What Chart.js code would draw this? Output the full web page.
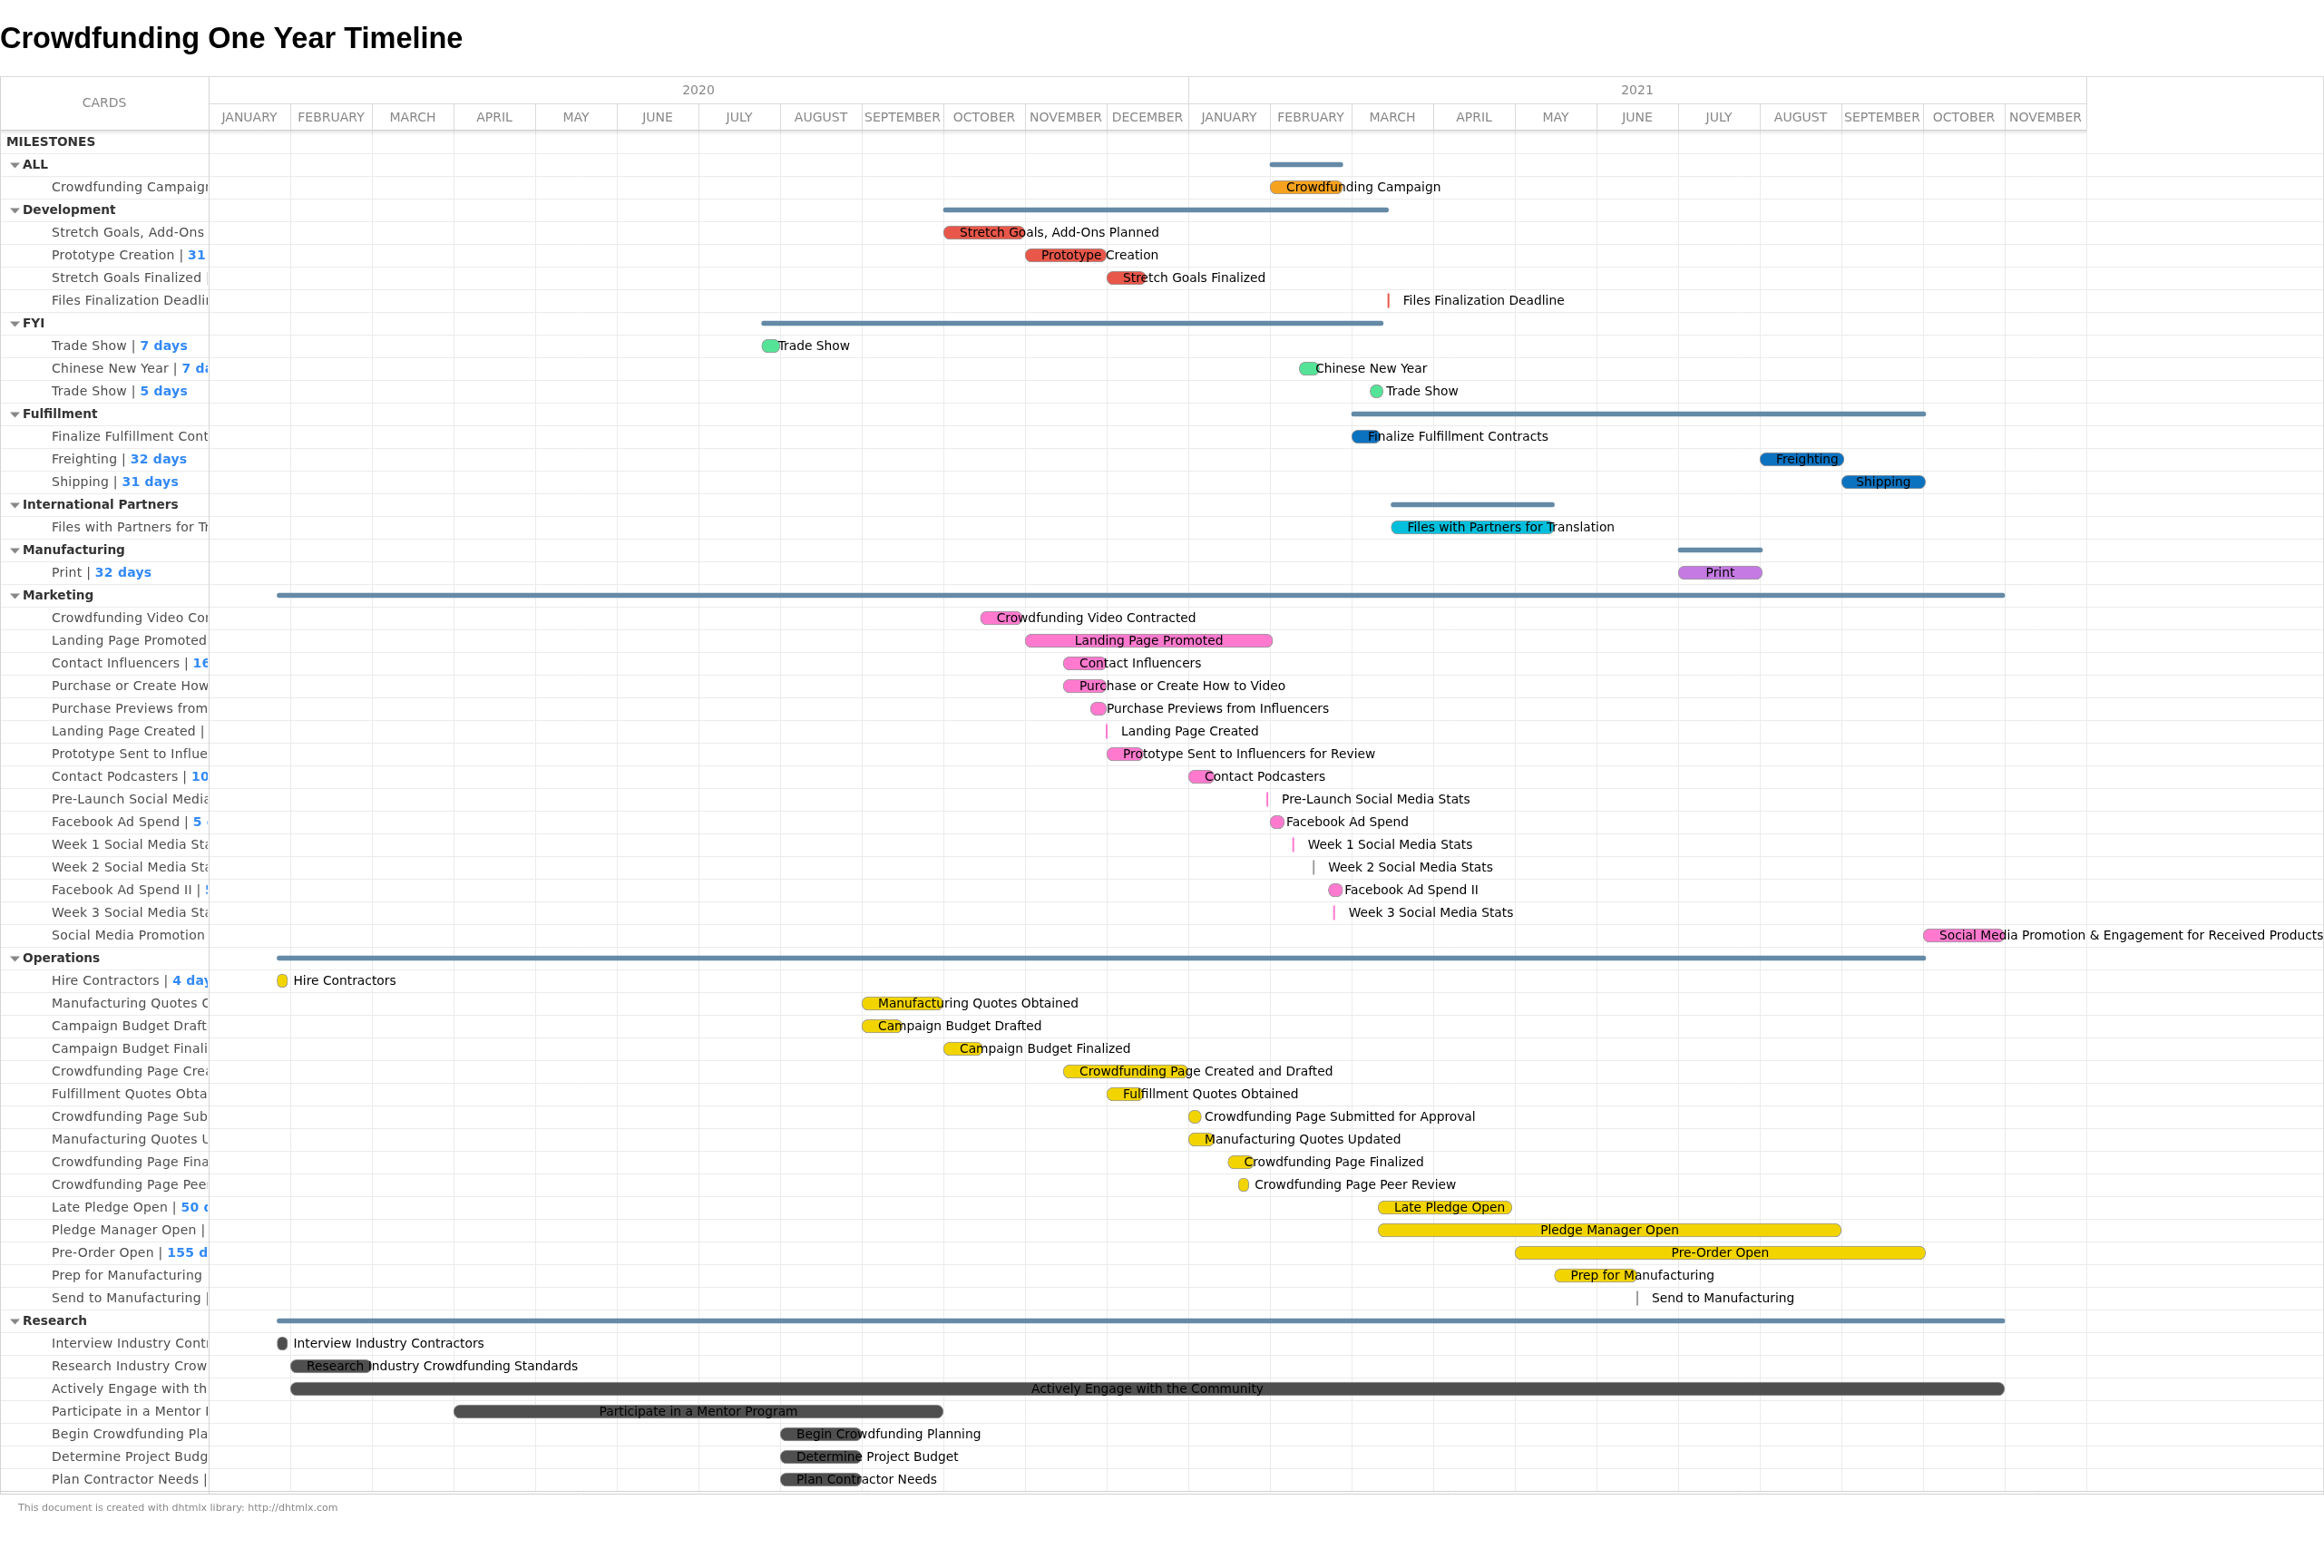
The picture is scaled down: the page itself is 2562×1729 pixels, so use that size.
<!DOCTYPE html>
<html>
<head>
<meta charset="utf-8">
<title>Crowdfunding One Year Timeline</title>
<script src="https://cdn.jsdelivr.net/npm/chart.js@4.4.1/dist/chart.umd.min.js"></script>
<style>
  html, body { margin: 0; padding: 0; background: #fff; }
  #wrap { position: relative; width: 2562px; height: 1729px; }
</style>
</head>
<body>
<div id="wrap"><canvas id="myChart"></canvas></div>
<script>
// grid rows, top to bottom
var rowLabels = [
    'MILESTONES',
    'ALL', 'Crowdfunding Campaign',
    'Development', 'Stretch Goals, Add-Ons Planned', 'Prototype Creation', 'Stretch Goals Finalized', 'Files Finalization Deadline',
    'FYI', 'Trade Show', 'Chinese New Year', 'Trade Show',
    'Fulfillment', 'Finalize Fulfillment Contracts', 'Freighting', 'Shipping',
    'International Partners', 'Files with Partners for Translation',
    'Manufacturing', 'Print',
    'Marketing', 'Crowdfunding Video Contracted', 'Landing Page Promoted', 'Contact Influencers',
    'Purchase or Create How to Video', 'Purchase Previews from Influencers', 'Landing Page Created',
    'Prototype Sent to Influencers for Review', 'Contact Podcasters', 'Pre-Launch Social Media Stats',
    'Facebook Ad Spend', 'Week 1 Social Media Stats', 'Week 2 Social Media Stats', 'Facebook Ad Spend II',
    'Week 3 Social Media Stats', 'Social Media Promotion & Engagement for Received Products',
    'Operations', 'Hire Contractors', 'Manufacturing Quotes Obtained', 'Campaign Budget Drafted',
    'Campaign Budget Finalized', 'Crowdfunding Page Created and Drafted', 'Fulfillment Quotes Obtained',
    'Crowdfunding Page Submitted for Approval', 'Manufacturing Quotes Updated', 'Crowdfunding Page Finalized',
    'Crowdfunding Page Peer Review', 'Late Pledge Open', 'Pledge Manager Open', 'Pre-Order Open',
    'Prep for Manufacturing', 'Send to Manufacturing',
    'Research', 'Interview Industry Contractors', 'Research Industry Crowdfunding Standards',
    'Actively Engage with the Community', 'Participate in a Mentor Program', 'Begin Crowdfunding Planning',
    'Determine Project Budget', 'Plan Contractor Needs'
];

// root / group / task / milestone
var rowKinds = [
    'root',
    'group', 'task',
    'group', 'task', 'task', 'task', 'milestone',
    'group', 'task', 'task', 'task',
    'group', 'task', 'task', 'task',
    'group', 'task',
    'group', 'task',
    'group', 'task', 'task', 'task', 'task', 'task', 'milestone', 'task', 'task', 'milestone',
    'task', 'milestone', 'milestone', 'task', 'milestone', 'task',
    'group', 'task', 'task', 'task', 'task', 'task', 'task', 'task', 'task', 'task', 'task',
    'task', 'task', 'task', 'task', 'milestone',
    'group', 'task', 'task', 'task', 'task', 'task', 'task', 'task'
];

var startDates = [
    null,
    '2021-02-01', '2021-02-01',
    '2020-10-01', '2020-10-01', '2020-11-01', '2020-12-01', '2021-03-15',
    '2020-07-25', '2020-07-25', '2021-02-11', '2021-03-08',
    '2021-03-01', '2021-03-01', '2021-08-01', '2021-09-01',
    '2021-03-16', '2021-03-16',
    '2021-07-01', '2021-07-01',
    '2020-01-27', '2020-10-15', '2020-11-01', '2020-11-15', '2020-11-15', '2020-11-25', '2020-12-01',
    '2020-12-01', '2021-01-01', '2021-01-31', '2021-02-01', '2021-02-09', '2021-02-16', '2021-02-21',
    '2021-02-23', '2021-10-01',
    '2020-01-27', '2020-01-27', '2020-09-01', '2020-09-01', '2020-10-01', '2020-11-15', '2020-12-01',
    '2021-01-01', '2021-01-01', '2021-01-16', '2021-01-20', '2021-03-11', '2021-03-11', '2021-05-01',
    '2021-05-16', '2021-06-16',
    '2020-01-27', '2020-01-27', '2020-02-01', '2020-02-01', '2020-04-01', '2020-08-01', '2020-08-01', '2020-08-01'
];

var endDates = [
    null,
    '2021-02-26', '2021-02-26',
    '2021-03-15', '2020-11-01', '2020-12-01', '2020-12-16', null,
    '2021-03-13', '2020-08-01', '2021-02-18', '2021-03-13',
    '2021-10-02', '2021-03-12', '2021-09-02', '2021-10-02',
    '2021-05-16', '2021-05-16',
    '2021-08-02', '2021-08-02',
    '2021-11-01', '2020-10-31', '2021-02-02', '2020-12-01', '2020-12-01', '2020-12-01', null,
    '2020-12-15', '2021-01-11', null, '2021-02-06', null, null, '2021-02-26',
    null, '2021-11-01',
    '2021-10-02', '2020-01-31', '2020-10-01', '2020-09-16', '2020-10-16', '2021-01-01', '2020-12-15',
    '2021-01-06', '2021-01-11', '2021-01-26', '2021-01-24', '2021-04-30', '2021-09-01', '2021-10-02',
    '2021-06-16', null,
    '2021-11-01', '2020-01-31', '2020-03-01', '2021-11-01', '2020-10-01', '2020-09-01', '2020-09-01', '2020-09-01'
];

// days shown after the name in the cards column
var durations = [
    null,
    null, 25,
    null, 31, 31, 15, 1,
    null, 7, 7, 5,
    null, 11, 32, 31,
    null, 61,
    null, 32,
    null, 16, 93, 16, 16, 6, 1, 14, 10, 1, 5, 1, 1, 5, 1, 31,
    null, 4, 30, 15, 15, 47, 14, 5, 10, 10, 4, 50, 174, 155, 31, 1,
    null, 4, 29, 639, 183, 31, 31, 31
];

var monthLabels = [
    'JANUARY', 'FEBRUARY', 'MARCH', 'APRIL', 'MAY', 'JUNE', 'JULY', 'AUGUST', 'SEPTEMBER', 'OCTOBER', 'NOVEMBER', 'DECEMBER',
    'JANUARY', 'FEBRUARY', 'MARCH', 'APRIL', 'MAY', 'JUNE', 'JULY', 'AUGUST', 'SEPTEMBER', 'OCTOBER', 'NOVEMBER'
];
var yearLabels = ['2020', '2021'];
var yearMonths = [12, 11];

var groupColors = {
    'ALL': '#f7a21e',
    'Development': '#e8574a',
    'FYI': '#55e397',
    'Fulfillment': '#0b72c0',
    'International Partners': '#03bfdc',
    'Manufacturing': '#c47ae2',
    'Marketing': '#ff7acf',
    'Operations': '#f2d400',
    'Research': '#4f4f4f'
};
var summaryColor = '#658aa6';
var grayTicks = ['Week 2 Social Media Stats', 'Send to Manufacturing'];

var FONT = '"DejaVu Sans", sans-serif';
Chart.defaults.font.family = FONT;

// every month gets the same width, as in the original timeline
function monthPos(d) {
    var p = d.split('-').map(Number);
    var dim = new Date(p[0], p[1], 0).getDate();
    return (p[0] - 2020) * 12 + (p[1] - 1) + (p[2] - 1) / dim;
}

var rowGroups = [];
var current = null;
rowKinds.forEach(function (k, i) {
    if (k === 'group') current = rowLabels[i];
    rowGroups.push(current);
});

var taskData = rowKinds.map(function (k, i) {
    return k === 'task' ? [monthPos(startDates[i]), monthPos(endDates[i])] : null;
});
var summaryData = rowKinds.map(function (k, i) {
    return k === 'group' ? [monthPos(startDates[i]), monthPos(endDates[i])] : null;
});
var milestoneData = rowKinds.map(function (k, i) {
    return k === 'milestone' ? monthPos(startDates[i]) : null;
});
var taskColors = rowGroups.map(function (g) { return g ? groupColors[g] : '#ccc'; });
var tickColors = rowGroups.map(function (g, i) {
    return grayTicks.indexOf(rowLabels[i]) >= 0 ? '#a0a0a0' : (g ? groupColors[g] : '#ccc');
});

function hline(ctx, x0, x1, y, color) {
    ctx.strokeStyle = color;
    ctx.lineWidth = 1;
    ctx.beginPath();
    ctx.moveTo(x0, y + 0.5);
    ctx.lineTo(x1, y + 0.5);
    ctx.stroke();
}
function vline(ctx, x, y0, y1, color) {
    ctx.strokeStyle = color;
    ctx.lineWidth = 1;
    ctx.beginPath();
    ctx.moveTo(Math.round(x) + 0.5, y0);
    ctx.lineTo(Math.round(x) + 0.5, y1);
    ctx.stroke();
}

var HEAD_TOP = 84, HEAD_MID = 114;

// grid behind the bars
var gridPlugin = {
    id: 'ganttGrid',
    beforeDatasetsDraw: function (chart) {
        var ctx = chart.ctx, area = chart.chartArea, xs = chart.scales.x;
        var W = chart.width;
        var rowH = (area.bottom - area.top) / rowLabels.length;
        ctx.save();
        for (var r = 1; r < rowLabels.length; r++) {
            hline(ctx, 0, W, Math.round(area.top + r * rowH), '#ebebeb');
        }
        for (var m = 1; m <= monthLabels.length; m++) {
            vline(ctx, xs.getPixelForValue(m), area.top, area.bottom, '#ebebeb');
        }
        ctx.restore();
    }
};

// bar texts
var labelPlugin = {
    id: 'barLabels',
    afterDatasetsDraw: function (chart) {
        var ctx = chart.ctx, xs = chart.scales.x, ys = chart.scales.y;
        ctx.save();
        ctx.font = '13.8px ' + FONT;
        ctx.fillStyle = '#000';
        ctx.textBaseline = 'middle';
        rowLabels.forEach(function (name, i) {
            var k = rowKinds[i];
            if (k !== 'task' && k !== 'milestone') return;
            var y = ys.getPixelForValue(i) + 1;
            var x0 = xs.getPixelForValue(monthPos(startDates[i]));
            if (k === 'milestone') {
                ctx.textAlign = 'left';
                ctx.fillText(name, x0 + 16, y);
                return;
            }
            var x1 = xs.getPixelForValue(monthPos(endDates[i]));
            var w = ctx.measureText(name).width;
            if (w + 30 < x1 - x0) {
                ctx.textAlign = 'center';
                ctx.fillText(name, (x0 + x1) / 2, y);
            } else {
                ctx.textAlign = 'left';
                ctx.fillText(name, x0 + 18, y);
            }
        });
        ctx.restore();
    }
};

// header, cards column, frame, footer
var framePlugin = {
    id: 'ganttFrame',
    afterDraw: function (chart) {
        var ctx = chart.ctx, area = chart.chartArea, xs = chart.scales.x, ys = chart.scales.y;
        var W = chart.width;
        var L = area.left, R = area.right, T = area.top, B = area.bottom;
        ctx.save();

        // header
        ctx.fillStyle = '#fff';
        ctx.fillRect(0, HEAD_TOP, R, T - HEAD_TOP);
        hline(ctx, 0, W, HEAD_TOP, '#dadada');
        hline(ctx, L, R, HEAD_MID, '#dadada');
        ctx.fillStyle = '#888';
        ctx.font = '14px ' + FONT;
        ctx.textAlign = 'center';
        ctx.textBaseline = 'middle';
        ctx.fillText('CARDS', L / 2, (HEAD_TOP + T) / 2);

        var m0 = 0;
        yearLabels.forEach(function (yl, j) {
            var a = xs.getPixelForValue(m0), b = xs.getPixelForValue(m0 + yearMonths[j]);
            vline(ctx, b, HEAD_TOP, HEAD_MID, '#dadada');
            ctx.fillStyle = '#888';
            ctx.fillText(yl, (a + b) / 2, (HEAD_TOP + HEAD_MID) / 2 + 1);
            m0 += yearMonths[j];
        });
        monthLabels.forEach(function (ml, m) {
            var a = xs.getPixelForValue(m), b = xs.getPixelForValue(m + 1);
            vline(ctx, b, HEAD_MID, T, '#dadada');
            ctx.fillStyle = '#888';
            ctx.fillText(ml, (a + b) / 2, (HEAD_MID + T) / 2 + 1);
        });

        // header shadow
        var g = ctx.createLinearGradient(0, T, 0, T + 5);
        g.addColorStop(0, 'rgba(0,0,0,0.10)');
        g.addColorStop(1, 'rgba(0,0,0,0)');
        ctx.fillStyle = g;
        ctx.fillRect(0, T, R, 5);
        hline(ctx, 0, R, T - 1, '#cfcfcf');

        // frame
        vline(ctx, 0, HEAD_TOP, B + 3, '#d4d4d4');
        vline(ctx, L, HEAD_TOP, B + 3, '#d4d4d4');
        vline(ctx, W - 1, HEAD_TOP, B + 3, '#dadada');
        hline(ctx, 0, W, B, '#d0d0d0');
        hline(ctx, 0, W, B + 3, '#d0d0d0');

        // cards column
        ctx.save();
        ctx.beginPath();
        ctx.rect(1, T, L - 2, B - T);
        ctx.clip();
        ctx.textAlign = 'left';
        ctx.textBaseline = 'middle';
        rowLabels.forEach(function (name, i) {
            var y = ys.getPixelForValue(i) + 1;
            var k = rowKinds[i];
            ctx.letterSpacing = '0px';
            if (k === 'root') {
                ctx.font = 'bold 13.7px ' + FONT;
                ctx.fillStyle = '#333';
                ctx.fillText(name, 7, y);
            } else if (k === 'group') {
                ctx.fillStyle = '#888';
                ctx.beginPath();
                ctx.moveTo(11, y - 3);
                ctx.lineTo(22, y - 3);
                ctx.lineTo(16.5, y + 3);
                ctx.closePath();
                ctx.fill();
                ctx.font = 'bold 13.7px ' + FONT;
                ctx.fillStyle = '#333';
                ctx.fillText(name, 25, y);
            } else {
                var x = 57;
                var head = name + ' | ';
                ctx.letterSpacing = '0.25px';
                ctx.font = '14px ' + FONT;
                ctx.fillStyle = '#4d4d4d';
                ctx.fillText(head, x, y);
                x += ctx.measureText(head).width;
                ctx.font = 'bold 14px ' + FONT;
                ctx.fillStyle = '#3389f5';
                ctx.fillText(durations[i] + (durations[i] === 1 ? ' day' : ' days'), x, y);
            }
        });
        ctx.restore();

        // footer
        ctx.font = '11px ' + FONT;
        ctx.fillStyle = '#888';
        ctx.textAlign = 'left';
        ctx.fillText('This document is created with dhtmlx library: http://dhtmlx.com', 20, 1663);
        ctx.restore();
    }
};

var ctx = document.getElementById('myChart').getContext('2d');
var chart = new Chart(ctx, {
    type: 'bar',
    data: {
        labels: rowLabels,
        datasets: [{
            label: 'Groups',
            data: summaryData,
            backgroundColor: summaryColor,
            barThickness: 5,
            borderRadius: 3,
            borderSkipped: false,
            grouped: false
        }, {
            label: 'Tasks',
            data: taskData,
            backgroundColor: taskColors,
            borderColor: '#9a9a9a',
            borderWidth: 1,
            barThickness: 15,
            borderRadius: 8,
            borderSkipped: false,
            grouped: false
        }, {
            type: 'line',
            label: 'Milestones',
            data: milestoneData,
            showLine: false,
            pointStyle: 'line',
            rotation: 90,
            pointRadius: 8,
            pointBorderWidth: 2,
            pointBorderColor: tickColors,
            pointBackgroundColor: tickColors
        }]
    },
    options: {
        indexAxis: 'y',
        responsive: true,
        maintainAspectRatio: false,
        animation: false,
        layout: { padding: { left: 0, right: 262, top: 0, bottom: 85 } },
        scales: {
            x: { type: 'linear', display: false, min: 0, max: monthLabels.length },
            y: {
                type: 'category',
                ticks: { display: false },
                grid: { display: false },
                border: { display: false },
                afterFit: function (scale) { scale.width = 230; }
            }
        },
        plugins: {
            legend: { display: false },
            tooltip: { enabled: false },
            title: {
                display: true,
                text: 'Crowdfunding One Year Timeline',
                align: 'start',
                color: '#000',
                font: { family: '"Liberation Sans", Arial, sans-serif', size: 32.5, weight: 'bold' },
                padding: { top: 25, bottom: 80 }
            }
        }
    },
    plugins: [gridPlugin, labelPlugin, framePlugin]
});
</script>
</body>
</html>
